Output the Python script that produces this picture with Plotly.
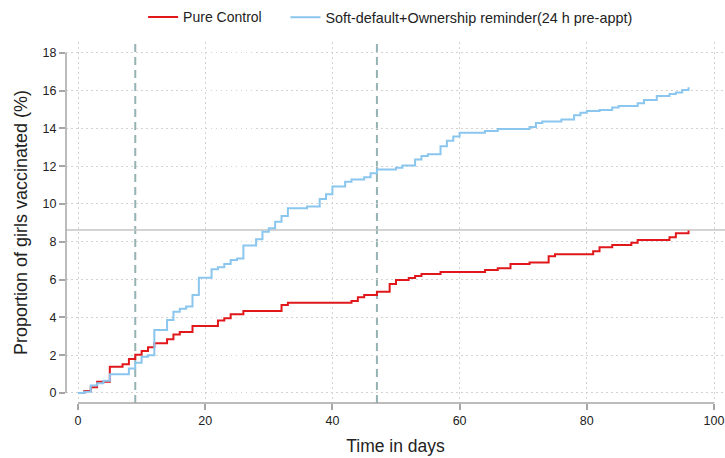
import plotly.graph_objects as go

# ---- data ----
control_days = [0, 1, 2, 3, 5, 7, 8, 9, 10, 11, 12, 14, 15, 16, 18, 22, 23, 24, 26, 32, 33,
                43, 44, 45, 47, 49, 50, 52, 53, 54, 57, 64, 66, 68, 71, 74, 75, 81, 82, 84,
                87, 88, 93, 94, 96]
control_vals = [0, 0.1, 0.3, 0.6, 1.39, 1.52, 1.8, 2.02, 2.22, 2.42, 2.63, 2.84, 3.1, 3.22,
                3.54, 3.83, 3.95, 4.16, 4.34, 4.66, 4.78, 4.87, 5.06, 5.18, 5.36, 5.77, 5.98,
                6.08, 6.19, 6.3, 6.4, 6.51, 6.6, 6.82, 6.9, 7.24, 7.34, 7.5, 7.71, 7.83, 7.95,
                8.1, 8.24, 8.45, 8.6]

treat_days = [0, 1, 2, 3, 4, 5, 8, 9, 10, 11, 12, 14, 15, 16, 17, 18, 19, 21, 22, 23, 24,
              25, 26, 28, 29, 30, 31, 32, 33, 36, 38, 39, 40, 42, 43, 45, 46, 47, 50, 51, 53,
              54, 55, 57, 58, 59, 60, 64, 66, 71, 72, 73, 76, 78, 79, 80, 82, 84, 85, 88, 89,
              91, 93, 94, 95, 96]
treat_vals = [0, 0.07, 0.39, 0.51, 0.65, 0.99, 1.3, 1.6, 1.92, 2.0, 3.33, 3.86, 4.3, 4.46,
              4.58, 5.19, 6.1, 6.54, 6.65, 6.83, 7.04, 7.12, 7.8, 8.13, 8.53, 8.71, 9.06, 9.37,
              9.77, 9.86, 10.26, 10.52, 10.92, 11.18, 11.3, 11.41, 11.62, 11.83, 11.92, 12.03,
              12.35, 12.54, 12.63, 13.05, 13.34, 13.57, 13.77, 13.86, 13.97, 14.07, 14.28,
              14.37, 14.47, 14.7, 14.83, 14.92, 14.97, 15.1, 15.19, 15.33, 15.5, 15.71, 15.82,
              15.9, 16.03, 16.17]

series_names = ["Pure Control", "Soft-default+Ownership reminder(24 h pre-appt)"]
vlines = [9, 47]
hline = 8.62
x_ticks = [0, 20, 40, 60, 80, 100]
y_ticks = [0, 2, 4, 6, 8, 10, 12, 14, 16, 18]

FONT = "Liberation Sans, Arial, sans-serif"

fig = go.Figure()
fig.add_trace(go.Scatter(x=control_days, y=control_vals, mode="lines", line_shape="hv",
                         name=series_names[0], line=dict(color="#e0181c", width=2),
                         legend="legend"))
fig.add_trace(go.Scatter(x=treat_days, y=treat_vals, mode="lines", line_shape="hv",
                         name=series_names[1], line=dict(color="#8ac6ee", width=2),
                         legend="legend2"))

for v in vlines:
    fig.add_shape(type="line", xref="x", yref="paper", x0=v, x1=v, y0=0, y1=1,
                  line=dict(color="#95b3b3", width=2, dash="8px,5px"), layer="below")
fig.add_shape(type="line", xref="paper", yref="y", x0=0, x1=1, y0=hline, y1=hline,
              line=dict(color="#c4c4c4", width=1.5), layer="below")
# axis lines spanning tick range only
fig.add_shape(type="line", xref="paper", yref="y", x0=0, x1=0, y0=y_ticks[0], y1=y_ticks[-1],
              line=dict(color="#a6a6a6", width=1.5))
fig.add_shape(type="line", xref="x", yref="paper", x0=x_ticks[0], x1=x_ticks[-1], y0=0, y1=0,
              line=dict(color="#a6a6a6", width=1.5))

grid = dict(showgrid=True, gridcolor="#d2d2d2", griddash="1.5px,3.5px", gridwidth=1)
fig.update_xaxes(range=[-1.89, 101.73], tickvals=x_ticks, ticks="outside", ticklen=6,
                 tickcolor="#a6a6a6", tickwidth=1.5, showline=False, zeroline=False,
                 tickfont=dict(size=12.5, color="#222"), **grid,
                 title=dict(text="Time in days", font=dict(size=17.5, color="#222"), standoff=12))
fig.update_yaxes(range=[-0.53, 18.57], tickvals=y_ticks, ticks="outside", ticklen=6,
                 tickcolor="#a6a6a6", tickwidth=1.5, showline=False, zeroline=False,
                 tickfont=dict(size=12.5, color="#222"), **grid,
                 title=dict(text="Proportion of girls vaccinated (%)", font=dict(size=18, color="#222"), standoff=10))

leg_common = dict(orientation="h", yanchor="bottom", y=1.024, xanchor="left",
                  itemwidth=30, bgcolor="rgba(0,0,0,0)")
fig.update_layout(
    width=725, height=458,
    margin=dict(l=66, r=0, t=42, b=55),
    paper_bgcolor="white", plot_bgcolor="white",
    font=dict(family=FONT, color="#222"),
    showlegend=True,
    legend=dict(x=0.117, font=dict(size=14), **leg_common),
    legend2=dict(x=0.333, font=dict(size=14.4), **leg_common),
)

fig.write_html("out.html")
